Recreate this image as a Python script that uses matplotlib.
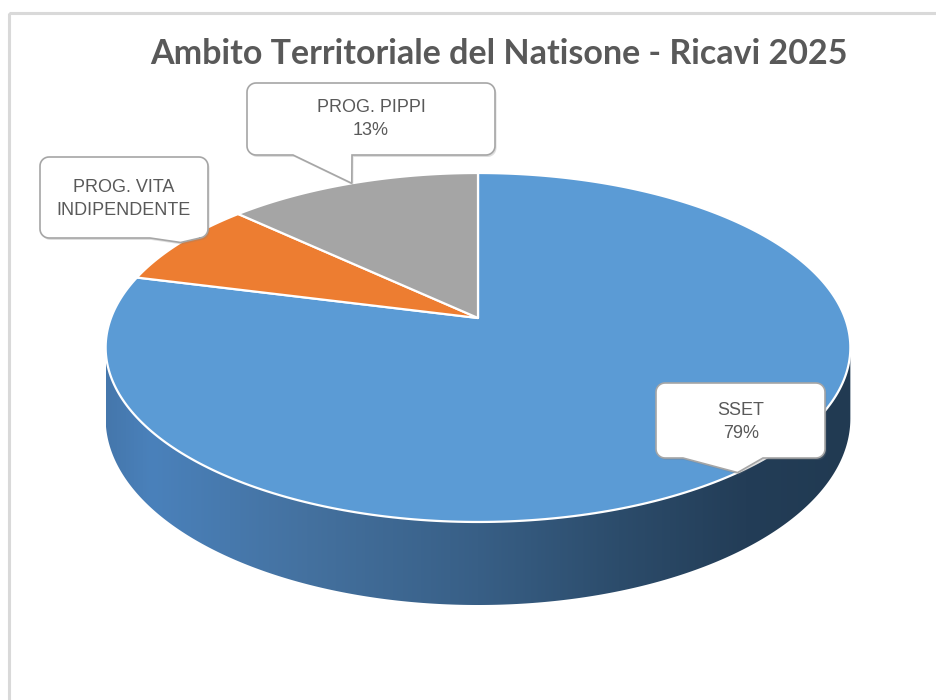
import numpy as np
import matplotlib.pyplot as plt
from matplotlib.patches import Polygon, Rectangle
from matplotlib.colors import LinearSegmentedColormap

# data
labels = ["SSET", "PROG. VITA\nINDIPENDENTE", "PROG. PIPPI"]
shares = [79, 8, 13]
show_pct = [True, False, True]
colors = ["#5B9BD5", "#ED7D31", "#A5A5A5"]
title = "Ambito Territoriale del Natisone - Ricavi 2025"

# 3d pie geometry (pixel-like axes)
CX, CY = 478, 318
A, B = 367, 169.5
K = 0.169      # perspective
DEPTH = 69


def proj(theta, drop=0.0):
    u, v = np.cos(theta), np.sin(theta)
    s = 1.0 / (1.0 + K * v)
    return CX + A * u * s, CY - B * v * s + DEPTH * drop * s


def callout(ax, box, base, tip, r=9):
    x0, y0, x1, y1 = box
    pts = []
    corners = [(x1 - r, y0 + r, -90, 0), (x1 - r, y1 - r, 0, 90),
               (x0 + r, y1 - r, 90, 180), (x0 + r, y0 + r, 180, 270)]
    for i, (cx, cy, a0, a1) in enumerate(corners):
        t = np.radians(np.linspace(a0, a1, 10))
        pts += list(zip(cx + r * np.cos(t), cy + r * np.sin(t)))
        if i == 1:
            pts += [(base[1], y1), tip, (base[0], y1)]
    shadow = Polygon([(x + 1.5, y + 2) for x, y in pts], closed=True,
                     facecolor="#7F7F7F", edgecolor="none", alpha=0.25, zorder=5)
    ax.add_patch(shadow)
    ax.add_patch(Polygon(pts, closed=True, facecolor="white",
                         edgecolor="#A6A6A6", lw=1.2, zorder=6))


fig = plt.figure(figsize=(9.36, 7.0), dpi=100)
ax = fig.add_axes([0, 0, 1, 1])
ax.axis("off")

ax.add_patch(Rectangle((9, 13), 2000, 2000, fill=False, edgecolor="#D9D9D9", lw=2.2))

# side of the pie (front, only SSET visible)
tl, tr = np.pi + np.arcsin(K), 2 * np.pi - np.arcsin(K)
arc = np.linspace(tl, tr, 300)
tx, ty = proj(arc)
bx, by = proj(arc[::-1], drop=1.0)
side = Polygon(np.column_stack([np.r_[tx, bx], np.r_[ty, by]]), closed=True,
               facecolor="none", edgecolor="none")
ax.add_patch(side)
side_cmap = LinearSegmentedColormap.from_list(
    "side", [(0.0, "#4577AC"), (0.06, "#4A81BB"), (0.27, "#44719F"),
             (0.5, "#385F86"), (0.69, "#2C4C6B"), (0.86, "#233D57"), (1.0, "#213A52")])
grad = np.linspace(0, 1, 256).reshape(1, -1)
im = ax.imshow(grad, cmap=side_cmap, aspect="auto",
               extent=(tx.min(), tx.max(), by.max() + 2, ty.min()), zorder=1)
im.set_clip_path(side)

# top slices, clockwise from 12 o'clock
bounds = np.radians(90 - np.r_[0, np.cumsum(shares)] * 360 / sum(shares))
for i, c in enumerate(colors):
    t = np.linspace(bounds[i], bounds[i + 1], 300)
    x, y = proj(t)
    ax.add_patch(Polygon(np.column_stack([np.r_[CX, x], np.r_[CY, y]]), closed=True,
                         facecolor=c, edgecolor="white", lw=1.6, joinstyle="round", zorder=2))

# data labels with callouts
boxes = [(656, 383, 825, 458), (40, 157, 208, 238), (247, 83, 495, 155)]
bases = [(683, 763), (150, 200), (293, 352)]
text_xy = [(741, 422), (124, 199), (371, 119)]
for i, lab in enumerate(labels):
    mid = (bounds[i] + bounds[i + 1]) / 2
    tip = proj(mid)
    callout(ax, boxes[i], bases[i], tip)
    txt = lab + ("\n%d%%" % shares[i] if show_pct[i] else "")
    ax.text(*text_xy[i], txt, ha="center", va="center", fontsize=13, color="#595959",
            linespacing=1.5, family=["Liberation Sans Narrow", "Liberation Sans"], zorder=7)

ax.text(499, 64, title, ha="center", va="baseline", fontsize=24.5, fontweight="bold",
        color="#595959", family=["Lato", "DejaVu Sans"])

ax.set_xlim(0, 936)
ax.set_ylim(700, 0)
fig.savefig("out.png", dpi=100)
